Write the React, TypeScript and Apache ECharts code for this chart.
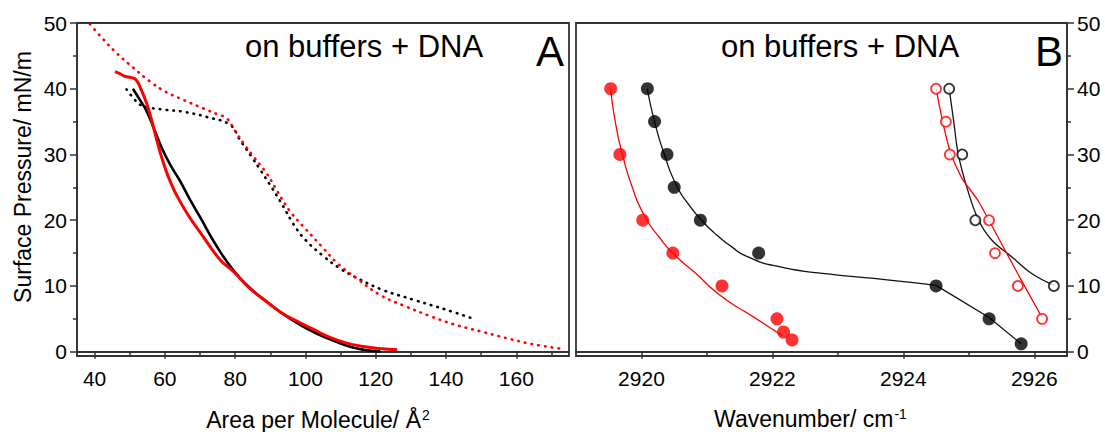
import React, { useEffect, useRef } from "react";
import * as echarts from "echarts";

// ---------- Panel A: isotherms (area per molecule vs surface pressure) ----------
const areaBlackSolid = [50.9, 52.9, 54.8, 57.0, 59.3, 61.8, 64.5, 67.2, 70.0, 74.8, 79.5, 84.0, 89.0, 93.5, 98.5, 102.3, 106.5, 111.8, 116.5, 121.3];
const presBlackSolid = [40.0, 38.3, 36.6, 33.8, 30.8, 28.2, 25.8, 23.1, 20.5, 16.0, 12.4, 9.8, 7.6, 5.8, 4.1, 3.0, 2.0, 0.9, 0.3, 0.05];

const areaRedSolid = [45.8, 47.2, 48.6, 50.5, 51.9, 53.3, 54.8, 56.2, 57.7, 59.6, 62.0, 64.6, 67.2, 70.0, 75.7, 79.5, 84.0, 89.0, 93.5, 98.5, 102.3, 106.5, 111.8, 116.5, 121.0, 126.1];
const presRedSolid = [42.6, 42.3, 41.9, 41.7, 41.3, 39.8, 37.8, 35.3, 32.2, 28.7, 25.3, 22.6, 20.3, 18.2, 14.0, 12.2, 9.7, 7.6, 5.8, 4.4, 3.4, 2.3, 1.3, 0.8, 0.5, 0.3];

const areaBlackDotted = [49.1, 51.0, 52.9, 54.8, 60.0, 65.3, 72.0, 78.6, 81.4, 84.5, 87.1, 90.5, 93.8, 96.6, 100.0, 105.2, 110.0, 114.7, 122.0, 130.8, 140.0, 147.9];
const presBlackDotted = [39.9, 38.6, 37.6, 37.2, 36.8, 36.5, 35.7, 34.5, 32.2, 29.8, 27.7, 24.9, 22.0, 19.4, 17.0, 14.5, 12.6, 11.2, 9.4, 7.9, 6.4, 5.0];

const areaRedDotted = [38.7, 42.0, 46.3, 51.0, 55.8, 60.0, 65.3, 71.0, 75.0, 77.6, 80.0, 82.4, 85.5, 89.0, 92.0, 95.7, 100.0, 105.0, 109.0, 115.0, 121.3, 128.0, 135.6, 142.0, 149.8, 157.0, 164.1, 173.5];
const presRedDotted = [49.8, 47.8, 45.4, 43.2, 41.1, 39.6, 38.3, 37.0, 36.1, 35.5, 33.6, 31.7, 29.5, 27.1, 24.4, 21.3, 18.7, 15.8, 13.5, 11.0, 8.6, 7.0, 5.4, 4.2, 3.1, 2.1, 1.2, 0.4];

const areaTicks = [40, 60, 80, 100, 120, 140, 160];
const pressureTicks = [0, 10, 20, 30, 40, 50];

// ---------- Panel B: CH2 stretching wavenumber vs surface pressure ----------
const wnBlackFilled = [2920.09, 2920.2, 2920.39, 2920.5, 2920.9, 2921.79, 2924.5, 2925.31, 2925.8];
const prBlackFilled = [40, 35, 30, 25, 20, 15, 10, 5, 1.2];
const wnBlackFilledFit = [2920.09, 2920.2, 2920.35, 2920.53, 2920.72, 2920.92, 2921.12, 2921.36, 2921.61, 2922.12, 2922.88, 2923.65, 2924.5];
const prBlackFilledFit = [40, 35, 30, 25.4, 22.4, 20.0, 18.0, 16.1, 14.5, 12.9, 11.8, 11.05, 10.1];
const wnBlackFilledTail = [2924.5, 2925.31, 2925.8];
const prBlackFilledTail = [10.1, 5.2, 1.2];

const wnRedFilled = [2919.53, 2919.67, 2920.02, 2920.48, 2921.23, 2922.07, 2922.17, 2922.3];
const prRedFilled = [40, 30, 20, 15, 10, 5, 3, 1.8];
const wnRedFilledFit = [2919.53, 2919.6, 2919.71, 2919.86, 2920.04, 2920.28, 2920.52, 2920.82, 2921.2, 2921.71, 2922.16];
const prRedFilledFit = [40, 35, 30, 25, 20.8, 17.3, 14.6, 12.0, 8.6, 5.3, 2.4];

const wnBlackOpen = [2924.7, 2924.9, 2925.1, 2926.3];
const prBlackOpen = [40, 30, 20, 10];
const wnBlackOpenFit = [2924.7, 2924.77, 2924.84, 2924.97, 2925.15, 2925.35, 2925.66, 2925.96, 2926.3];
const prBlackOpenFit = [40, 35, 30, 25, 20, 17, 14.4, 11.9, 10.1];

const wnRedOpen = [2924.5, 2924.65, 2924.71, 2925.31, 2925.4, 2925.75, 2926.12];
const prRedOpen = [40, 35, 30, 20, 15, 10, 5];
const wnRedOpenFit = [2924.5, 2924.6, 2924.73, 2924.9, 2925.14, 2925.55, 2925.89, 2926.12];
const prRedOpenFit = [40, 35, 30, 26.3, 23, 15.5, 9.3, 5.2];

const wavenumberTicks = [2920, 2922, 2924, 2926];

const panelTitle = "on buffers + DNA";

const FONT = "'Liberation Sans', Arial, Helvetica, sans-serif";
const AXIS_COLOR = "#333";

const zip = (xs: number[], ys: number[]) => xs.map((x, i) => [x, ys[i]]);

function axisCommon(ticks: number[], margin: number) {
  return {
    type: "value",
    axisLine: { show: true, lineStyle: { color: AXIS_COLOR, width: 1.8 } },
    axisTick: { show: true, inside: false, length: 7, customValues: ticks, lineStyle: { color: AXIS_COLOR, width: 1.5 } },
    minorTick: { show: true, splitNumber: 2, length: 4, lineStyle: { color: AXIS_COLOR, width: 1.5 } },
    axisLabel: {
      customValues: ticks,
      fontSize: 21,
      fontFamily: FONT,
      color: "#000",
      margin,
      formatter: (v: number) => String(v),
    },
    splitLine: { show: false },
    minorSplitLine: { show: false },
  };
}

export default function App() {
  const ref = useRef<HTMLDivElement>(null);

  useEffect(() => {
    if (!ref.current) return;
    const chart = echarts.init(ref.current, null, { renderer: "svg" });

    const gridA = { left: 77, top: 23, width: 492, height: 333 };
    const gridB = { left: 576, top: 23, width: 491, height: 333 };

    const supRich = { sup: { fontSize: 14, fontFamily: FONT, color: "#000", verticalAlign: "top", padding: [0, 0, 0, 1] } };

    const option: any = {
      animation: false,
      backgroundColor: "#fff",
      grid: [
        { ...gridA, outerBoundsMode: "none", containLabel: false },
        { ...gridB, outerBoundsMode: "none", containLabel: false },
      ],
      xAxis: [
        {
          ...axisCommon(areaTicks, 12),
          gridIndex: 0,
          min: 35,
          max: 175,
          splitNumber: 7,
          name: "Area per Molecule/ Å{sup|2}",
          nameLocation: "middle",
          nameGap: 52,
          nameTextStyle: { fontSize: 23, fontFamily: FONT, color: "#000", padding: [0, 10, 0, 0], rich: supRich },
        },
        {
          ...axisCommon(wavenumberTicks, 12),
          gridIndex: 1,
          min: 2919,
          max: 2926.5,
          splitNumber: 4,
          name: "Wavenumber/ cm{sup|-1}",
          nameLocation: "middle",
          nameGap: 51,
          nameTextStyle: { fontSize: 23, fontFamily: FONT, color: "#000", padding: [0, 22, 0, 0], rich: supRich },
        },
      ],
      yAxis: [
        {
          ...axisCommon(pressureTicks, 10),
          gridIndex: 0,
          min: -0.65,
          max: 50,
          splitNumber: 5,
          name: "Surface Pressure/ mN/m",
          nameLocation: "middle",
          nameGap: 43,
          nameTextStyle: { fontSize: 23, fontFamily: FONT, color: "#000", padding: [0, 0, 0, 25] },
        },
        {
          ...axisCommon(pressureTicks, 10),
          gridIndex: 1,
          position: "right",
          min: -0.65,
          max: 50,
          splitNumber: 5,
        },
      ],
      graphic: [
        { type: "rect", z: 100, silent: true, shape: { x: gridA.left, y: gridA.top, width: gridA.width, height: gridA.height }, style: { fill: "none", stroke: AXIS_COLOR, lineWidth: 1.8 } },
        { type: "rect", z: 100, silent: true, shape: { x: gridB.left, y: gridB.top, width: gridB.width, height: gridB.height }, style: { fill: "none", stroke: AXIS_COLOR, lineWidth: 1.8 } },
        { type: "text", z: 100, x: 245, y: 46, style: { text: panelTitle, fontSize: 31, fontFamily: FONT, fill: "#000", align: "left", verticalAlign: "middle" } },
        { type: "text", z: 100, x: 564, y: 51, style: { text: "A", fontSize: 42, fontFamily: FONT, fill: "#000", align: "right", verticalAlign: "middle" } },
        { type: "text", z: 100, x: 721, y: 46, style: { text: panelTitle, fontSize: 31, fontFamily: FONT, fill: "#000", align: "left", verticalAlign: "middle" } },
        { type: "text", z: 100, x: 1063, y: 51, style: { text: "B", fontSize: 42, fontFamily: FONT, fill: "#000", align: "right", verticalAlign: "middle" } },
      ],
      series: [
        // Panel A
        {
          type: "line", xAxisIndex: 0, yAxisIndex: 0, data: zip(areaBlackDotted, presBlackDotted), showSymbol: false, smooth: 0.4,
          lineStyle: { color: "#000", width: 2.6, type: [0.6, 6.2], cap: "round" },
        },
        {
          type: "line", xAxisIndex: 0, yAxisIndex: 0, data: zip(areaRedDotted, presRedDotted), showSymbol: false, smooth: 0.4,
          lineStyle: { color: "#ff0000", width: 2.6, type: [0.6, 6.2], cap: "round" },
        },
        {
          type: "line", xAxisIndex: 0, yAxisIndex: 0, data: zip(areaBlackSolid, presBlackSolid), showSymbol: false, smooth: 0.5,
          lineStyle: { color: "#000", width: 2.6 },
        },
        {
          type: "line", xAxisIndex: 0, yAxisIndex: 0, data: zip(areaRedSolid, presRedSolid), showSymbol: false, smooth: 0.5,
          lineStyle: { color: "#ff0000", width: 3 },
        },
        // Panel B fits
        {
          type: "line", xAxisIndex: 1, yAxisIndex: 1, data: zip(wnBlackFilledFit, prBlackFilledFit), showSymbol: false, smooth: 0.6,
          lineStyle: { color: "#111", width: 1.3 },
        },
        {
          type: "line", xAxisIndex: 1, yAxisIndex: 1, data: zip(wnBlackFilledTail, prBlackFilledTail), showSymbol: false,
          lineStyle: { color: "#111", width: 1.3 },
        },
        {
          type: "line", xAxisIndex: 1, yAxisIndex: 1, data: zip(wnRedFilledFit, prRedFilledFit), showSymbol: false, smooth: 0.6,
          lineStyle: { color: "#ff0000", width: 1.3 },
        },
        {
          type: "line", xAxisIndex: 1, yAxisIndex: 1, data: zip(wnBlackOpenFit, prBlackOpenFit), showSymbol: false, smooth: 0.4,
          lineStyle: { color: "#111", width: 1.3 },
        },
        {
          type: "line", xAxisIndex: 1, yAxisIndex: 1, data: zip(wnRedOpenFit, prRedOpenFit), showSymbol: false, smooth: 0.2,
          lineStyle: { color: "#ff0000", width: 1.3 },
        },
        // Panel B points
        {
          type: "scatter", xAxisIndex: 1, yAxisIndex: 1, data: zip(wnBlackFilled, prBlackFilled), symbol: "circle", symbolSize: 13,
          itemStyle: { color: "#000" }, z: 5,
        },
        {
          type: "scatter", xAxisIndex: 1, yAxisIndex: 1, data: zip(wnRedFilled, prRedFilled), symbol: "circle", symbolSize: 13,
          itemStyle: { color: "#ff0000" }, z: 5,
        },
        {
          type: "scatter", xAxisIndex: 1, yAxisIndex: 1, data: zip(wnBlackOpen, prBlackOpen), symbol: "circle", symbolSize: 10,
          itemStyle: { color: "#fff", borderColor: "#000", borderWidth: 1.8 }, z: 5,
        },
        {
          type: "scatter", xAxisIndex: 1, yAxisIndex: 1, data: zip(wnRedOpen, prRedOpen), symbol: "circle", symbolSize: 10,
          itemStyle: { color: "#fff", borderColor: "#ff0000", borderWidth: 1.8 }, z: 5,
        },
      ],
    };

    chart.setOption(option);
    return () => chart.dispose();
  }, []);

  return (
    <div
      ref={ref}
      style={{ position: "fixed", left: 0, top: 0, width: 1105, height: 432, background: "#fff" }}
    />
  );
}
